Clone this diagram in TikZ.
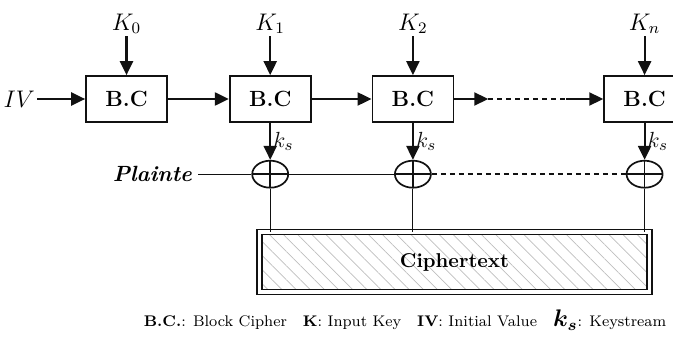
\documentclass[tikz,border=0pt]{standalone}
\usepackage{amsmath,amssymb}
\usepackage{bm}
\usepackage{xcolor}
\usepackage{tikz}
\usetikzlibrary{
  arrows.meta,
  positioning,
  shapes.geometric,
  patterns.meta,
  calc
}
\definecolor{hatchgrey}{HTML}{BEBEBE}
\definecolor{linegrey}{HTML}{111111}
\tikzset{
  bcbox/.style={
    rectangle, draw=linegrey, line width=0.85pt,
    minimum width=40.5pt, minimum height=23pt, inner sep=0pt,
    font=\fontsize{11}{13}\selectfont\bfseries
  },
  xorcirc/.style={
    ellipse, draw=linegrey, line width=0.85pt,
    minimum width=18pt, minimum height=13.5pt, inner sep=0pt,
    path picture={
      \draw[line width=0.85pt]
        (path picture bounding box.north) -- (path picture bounding box.south)
        (path picture bounding box.west) -- (path picture bounding box.east);
    }
  },
  ctbox/.style={
    rectangle, draw=linegrey, double, line width=0.8pt, double distance=1.8pt,
    minimum width=195pt, minimum height=30pt,
    pattern={Lines[angle=-45, distance=5pt, line width=0.35pt]},
    pattern color=hatchgrey,
    font=\fontsize{10}{12}\selectfont\bfseries
  },
  keylab/.style={
    inner sep=1pt, font=\fontsize{12}{14}\selectfont
  },
  kslab/.style={
    inner sep=1pt, font=\fontsize{11}{13}\selectfont
  },
  plainlab/.style={
    inner sep=3pt, font=\fontsize{11}{13}\selectfont\bfseries\itshape
  },
  legendlab/.style={
    inner sep=0pt, font=\fontsize{7.7}{9}\selectfont
  },
  flow/.style={
    -{Triangle[length=7pt,width=6.5pt]}, line width=1.1pt, color=linegrey
  },
  thinline/.style={
    line width=0.55pt, color=linegrey
  },
  dashline/.style={
    line width=0.7pt, color=linegrey, dash pattern=on 2.5pt off 2pt
  },
}

\begin{document}
\begin{tikzpicture}[x=0.5pt, y=-0.5pt, node distance=30.5pt]
  \useasboundingbox (0,0) rectangle (673,347);

  % block cipher chain
  \node[bcbox] (b0) at (126.5,99) {B.C};
  \node[bcbox, right=of b0] (b1) {B.C};
  \node[bcbox, right=30pt of b1] (b2) {B.C};
  \node[bcbox, right=74.5pt of b2] (bn) {B.C};

  \node[keylab, above=19.5pt of b0] (k0) {$K_0$};
  \node[keylab, above=19.5pt of b1] (k1) {$K_1$};
  \node[keylab, above=19.5pt of b2] (k2) {$K_2$};
  \node[keylab, above=19.5pt of bn] (kn) {$K_n$};
  \node[keylab, left=24pt of b0] (iv) {$IV$};

  \draw[flow] (k0) -- (b0);
  \draw[flow] (k1) -- (b1);
  \draw[flow] (k2) -- (b2);
  \draw[flow] (kn) -- (bn);

  \coordinate[right=17pt of b2] (d1);
  \coordinate[left=18.5pt of bn] (d2);
  \draw[flow] (iv) -- (b0);
  \draw[flow] (b0) -- (b1);
  \draw[flow] (b1) -- (b2);
  \draw[flow] (b2) -- (d1);
  \draw[dashline] (d1) -- (d2);
  \draw[flow] (d2) -- (bn);

  % xor stage
  \node[xorcirc, below=18.5pt of b1] (x1) {};
  \node[xorcirc, below=18.5pt of b2] (x2) {};
  \node[xorcirc, below=18.5pt of bn] (xn) {};

  \draw[flow] (b1) -- (x1) node[midway, right=0pt, kslab] {$k_s$};
  \draw[flow] (b2) -- (x2) node[midway, right=0pt, kslab] {$k_s$};
  \draw[flow] (bn) -- (xn) node[midway, right=0pt, kslab] {$k_s$};

  \node[plainlab, left=26.5pt of x1] (pl) {Plainte};
  \draw[thinline] (pl) -- (x1) -- (x2);
  \draw[dashline] (x2) -- (xn);

  % output
  \node[ctbox] (ct) at (454.5,262) {Ciphertext};
  \draw[thinline] (x1) -- (x1 |- ct.north);
  \draw[thinline] (x2) -- (x2 |- ct.north);
  \draw[thinline] (xn) -- (xn |- ct.north);

  \node[legendlab] (leg) at (405,320)
    {\textbf{B.C.}: Block Cipher\hspace{8pt}\textbf{K}: Input Key\hspace{8pt}\textbf{IV}: Initial Value\hspace{8pt}{\large$\bm{k_s}$}: Keystream};
\end{tikzpicture}
\end{document}
